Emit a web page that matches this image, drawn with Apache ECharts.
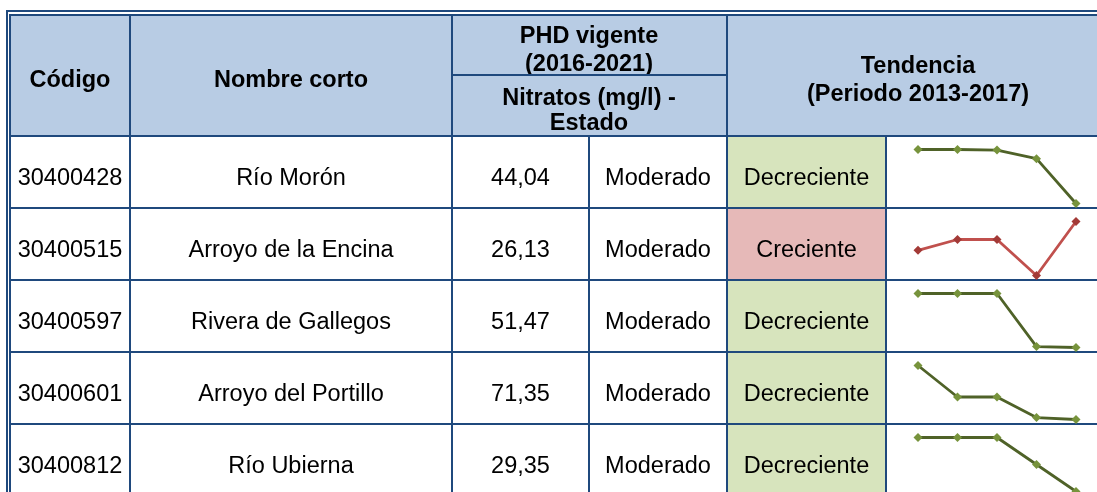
<!DOCTYPE html>
<html>
<head>
<meta charset="utf-8">
<title>Tendencia nitratos</title>
<script src="https://cdn.jsdelivr.net/npm/echarts@6/dist/echarts.min.js"></script>
<style>
  html, body { margin: 0; padding: 0; background: #fff; overflow: hidden; }
  #chart { width: 1097px; height: 492px; }
</style>
</head>
<body>
<div id="chart"></div>
<script>
// datos de la tabla
var codigos = ['30400428', '30400515', '30400597', '30400601', '30400812'];
var nombres = ['Río Morón', 'Arroyo de la Encina', 'Rivera de Gallegos', 'Arroyo del Portillo', 'Río Ubierna'];
var nitratos = [44.04, 26.13, 51.47, 71.35, 29.35];
var estados = ['Moderado', 'Moderado', 'Moderado', 'Moderado', 'Moderado'];
var tendencias = ['Decreciente', 'Creciente', 'Decreciente', 'Decreciente', 'Decreciente'];
var anios = ['2013', '2014', '2015', '2016', '2017'];
// valores de las minigráficas (estimados)
var serie30400428 = [52.0, 52.0, 51.9, 50.3, 42.0];
var serie30400515 = [24.5, 26.3, 26.3, 20.3, 29.3];
var serie30400597 = [58.0, 58.0, 58.0, 40.5, 40.2];
var serie30400601 = [78.0, 66.5, 66.5, 59.0, 58.3];
var serie30400812 = [36.0, 36.0, 36.0, 30.9, 25.8];
var series = [serie30400428, serie30400515, serie30400597, serie30400601, serie30400812];

var BORDER = '#1F497D';
var HEAD_BG = '#B8CCE4';
var FONT = '"Liberation Sans", Arial, sans-serif';
var colX = [10, 130, 452, 589, 727, 886, 1110];
var rowY = [136, 208, 280, 352, 424, 496];

function txt(x, y, s, bold) {
  return {
    type: 'text', x: x, y: y + 3, z: 10,
    style: {
      text: s, fill: '#000', fontSize: 23.5, fontFamily: FONT,
      fontWeight: bold ? 'bold' : 'normal', align: 'center', verticalAlign: 'middle'
    }
  };
}
function hline(x1, x2, y) {
  return { type: 'line', z: 20, shape: { x1: x1, y1: y, x2: x2, y2: y }, style: { stroke: BORDER, lineWidth: 2 } };
}
function vline(x, y1, y2) {
  return { type: 'line', z: 20, shape: { x1: x, y1: y1, x2: x, y2: y2 }, style: { stroke: BORDER, lineWidth: 2 } };
}

var g = [];
// fondo cabecera
g.push({ type: 'rect', z: 1, shape: { x: 10, y: 15, width: 1087, height: 121 }, style: { fill: HEAD_BG } });
// celdas de tendencia
tendencias.forEach(function (t, i) {
  g.push({ type: 'rect', z: 1, shape: { x: colX[4], y: rowY[i], width: colX[5] - colX[4], height: 72 },
    style: { fill: t === 'Creciente' ? '#E6B9B8' : '#D7E4BD' } });
});
// textos de cabecera
g.push(txt(70, 78, 'Código', true));
g.push(txt(291, 78, 'Nombre corto', true));
g.push(txt(589, 34, 'PHD vigente', true));
g.push(txt(589, 62, '(2016-2021)', true));
g.push(txt(589, 96, 'Nitratos (mg/l) -', true));
g.push(txt(589, 121, 'Estado', true));
g.push(txt(918, 64, 'Tendencia', true));
g.push(txt(918, 92, '(Periodo 2013-2017)', true));
// filas
codigos.forEach(function (c, i) {
  var y = rowY[i] + 39.5;
  g.push(txt(70, y, c));
  g.push(txt(291, y, nombres[i]));
  g.push(txt(520.5, y, nitratos[i].toFixed(2).replace('.', ',')));
  g.push(txt(658, y, estados[i]));
  g.push(txt(806.5, y, tendencias[i]));
});
// bordes
g.push(hline(6, 1097, 11));
g.push(hline(10, 1097, 15));
g.push(vline(7, 10, 492));
g.push(vline(10, 14, 492));
g.push(hline(452, 727, 75));
rowY.slice(0, 5).forEach(function (y) { g.push(hline(10, 1097, y)); });
g.push(vline(colX[1], 15, 492));
g.push(vline(colX[2], 15, 492));
g.push(vline(colX[3], 136, 492));
g.push(vline(colX[4], 15, 492));
g.push(vline(colX[5], 136, 492));

// minigráficas
var grids = [], xAxes = [], yAxes = [], lines = [];
series.forEach(function (d, i) {
  var sube = tendencias[i] === 'Creciente';
  grids.push({ left: 918, width: 158, top: rowY[i] + 13.5, height: 54 });
  xAxes.push({ type: 'category', gridIndex: i, data: anios, boundaryGap: false, show: false });
  yAxes.push({ type: 'value', gridIndex: i, min: 'dataMin', max: 'dataMax', show: false, scale: true });
  lines.push({
    type: 'line', xAxisIndex: i, yAxisIndex: i, data: d, z: 30,
    symbol: 'diamond', symbolSize: 9, silent: true,
    lineStyle: { color: sube ? '#C0504D' : '#4F6228', width: 2.8 },
    itemStyle: { color: sube ? '#A33A37' : '#77933C' }
  });
});

var chart = echarts.init(document.getElementById('chart'));
chart.setOption({
  animation: false,
  grid: grids,
  xAxis: xAxes,
  yAxis: yAxes,
  series: lines,
  graphic: g
});
</script>
</body>
</html>
